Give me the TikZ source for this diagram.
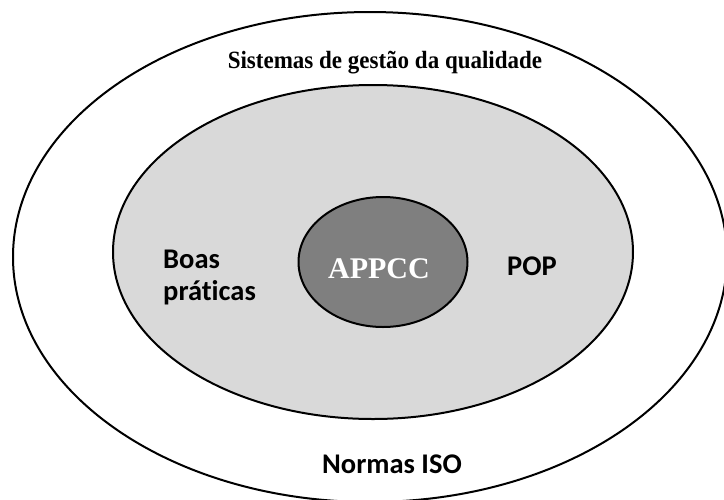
\documentclass[tikz,border=0pt]{standalone}
\usepackage{fontspec}
\setmainfont{Liberation Serif}
\newfontfamily\calfont[Ligatures=CommonOff]{Carlito}
\usetikzlibrary{shapes.geometric}
\definecolor{midgray}{HTML}{D9D9D9}
\definecolor{darkgray2}{HTML}{7F7F7F}
\tikzset{
  ring/.style={ellipse, draw=black, line width=2pt, inner sep=0pt},
  serifbold/.style={font=\fontsize{23}{27}\selectfont\bfseries, inner sep=0pt},
  sanslabel/.style={font=\calfont\fontsize{28.5}{32}\selectfont\bfseries, inner sep=0pt, align=left},
}
\begin{document}
\begin{tikzpicture}[x=1pt,y=-1pt]
\useasboundingbox (0,0) rectangle (724,499);
\clip (0,0) rectangle (724,499);
\fill[white] (0,0) rectangle (724,499);
\node[ring, fill=white, minimum width=714pt, minimum height=490pt] (outer) at (370,257) {};
\node[ring, fill=midgray, minimum width=520pt, minimum height=334pt] (middle) at (373,252) {};
\node[ring, fill=darkgray2, minimum width=169pt, minimum height=130pt] (inner) at (383,262) {};
\node[serifbold, anchor=base, yscale=1.08, transform shape] (sgq) at (385,68) {Sistemas de gestão da qualidade};
\node[font=\fontsize{30}{34}\selectfont\bfseries, text=white, inner sep=0pt, anchor=base] (appcc) at (379,278) {APPCC};
\node[sanslabel, anchor=base west] (boas) at (163,268) {Boas};
\node[sanslabel, anchor=base west] (prat) at (163,300) {práticas};
\node[sanslabel, anchor=base west] (pop) at (507,275) {POP};
\node[sanslabel, anchor=base] (iso) at (392,473) {Normas ISO};
\end{tikzpicture}
\end{document}
